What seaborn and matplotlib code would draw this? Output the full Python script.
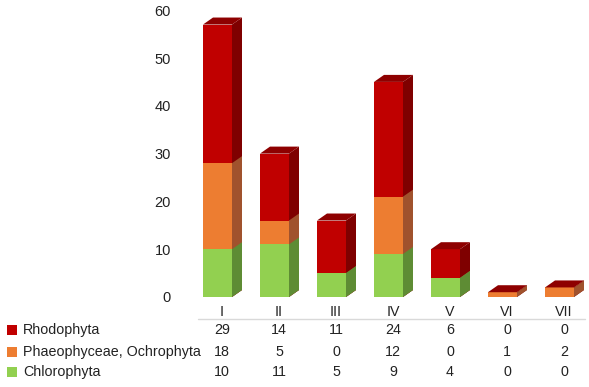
import numpy as np
import pandas as pd
import matplotlib
matplotlib.use("Agg")
import matplotlib.pyplot as plt
from matplotlib.patches import Polygon, Rectangle
from matplotlib.transforms import blended_transform_factory
import seaborn as sns

categories = ["I", "II", "III", "IV", "V", "VI", "VII"]
rhodophyta = [29, 14, 11, 24, 6, 0, 0]
phaeophyceae = [18, 5, 0, 12, 0, 1, 2]
chlorophyta = [10, 11, 5, 9, 4, 0, 0]
series_names = ["Rhodophyta", "Phaeophyceae, Ochrophyta", "Chlorophyta"]
yticks = [0, 10, 20, 30, 40, 50, 60]

front_colors = ["#C00000", "#ED7D31", "#92D050"]
side_colors = ["#7F0000", "#A0522D", "#5E8C34"]
top_color = "#8E0000"

sns.set_theme(style="white")
plt.rcParams["font.family"] = ["Liberation Sans", "DejaVu Sans"]

W, H = 589, 387
fig = plt.figure(figsize=(W / 100, H / 100), dpi=100)
ax_left_px, ax_right_px, ax_bottom_px = 185, 589, 297
ax = fig.add_axes([ax_left_px / W, (H - ax_bottom_px) / H,
                   (ax_right_px - ax_left_px) / W, ax_bottom_px / H])

px_per_x = 57.0
px_per_y = 4.78
xlo = -(217.5 - ax_left_px) / px_per_x
xhi = (ax_right_px - 217.5) / px_per_x
ylim_hi = ax_bottom_px / px_per_y

green = np.array(chlorophyta, float)
orange = green + np.array(phaeophyceae, float)
total = orange + np.array(rhodophyta, float)
layers = [total, orange, green]

bw = 29 / px_per_x
dx = 10 / px_per_x
dy = 7 / px_per_y

df = pd.DataFrame({"cat": categories})
for k, (vals, fc, sc) in enumerate(zip(layers, front_colors, side_colors)):
    df["v"] = vals
    sns.barplot(data=df, x="cat", y="v", order=categories, color=fc,
                saturation=1, width=bw, ax=ax, linewidth=0, errorbar=None)
    for i, v in enumerate(vals):
        x1 = i + bw / 2
        ax.add_patch(Polygon([(x1, 0), (x1 + dx, dy), (x1 + dx, v + dy), (x1, v)],
                             closed=True, facecolor=sc, edgecolor="none", zorder=2))

for i, v in enumerate(total):
    x0, x1 = i - bw / 2, i + bw / 2
    ax.add_patch(Polygon([(x0, v), (x0 + dx, v + dy), (x1 + dx, v + dy), (x1, v)],
                         closed=True, facecolor=top_color, edgecolor="none", zorder=3))

ax.set_xlim(xlo, xhi)
ax.set_ylim(0, ylim_hi)
ax.set_yticks(yticks)
ax.set_yticklabels([str(t) for t in yticks], fontsize=10.5, color="#222222")
ax.set_xticks([])
ax.set_xlabel("")
ax.set_ylabel("")
ax.tick_params(axis="y", length=0, pad=10)
for s in ax.spines.values():
    s.set_visible(False)
ax.set_facecolor("none")

# data table
tr = blended_transform_factory(ax.transData, fig.transFigure)
xoff = 0.08
fs = 10.3
hdr_y = (H - 312) / H
for i, c in enumerate(categories):
    fig.text(i + xoff, hdr_y, c, transform=tr, ha="center", va="center",
             fontsize=fs, color="#222222")
ax.plot([-0.35, 6.45], [-21.5 / px_per_y, -21.5 / px_per_y], transform=ax.transData,
        color="#d9d9d9", lw=1, clip_on=False)

row_y = [(H - 330) / H, (H - 352) / H, (H - 372) / H]
series_vals = [rhodophyta, phaeophyceae, chlorophyta]
for name, vals, col, y in zip(series_names, series_vals, front_colors, row_y):
    fig.add_artist(Rectangle((7 / W, y - 5 / H), 10 / W, 10 / H,
                             transform=fig.transFigure, facecolor=col, edgecolor="none"))
    fig.text(23 / W, y, name, ha="left", va="center", fontsize=fs, color="#222222")
    for i, v in enumerate(vals):
        fig.text(i + xoff, y, str(v), transform=tr, ha="center", va="center",
                 fontsize=fs, color="#222222")

fig.savefig("out.png", dpi=100)
